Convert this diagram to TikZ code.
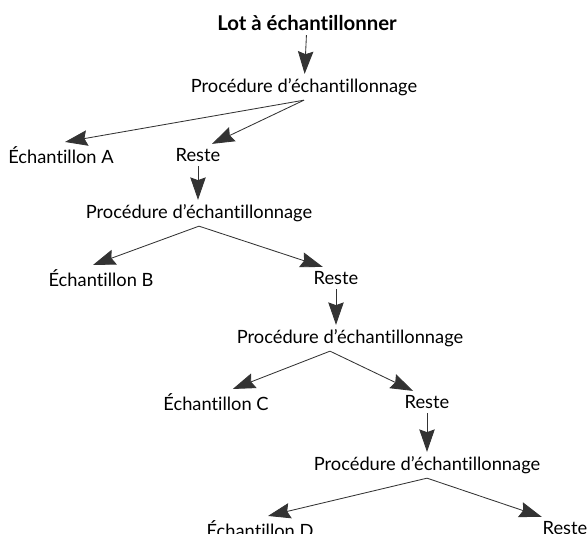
\documentclass[tikz,border=0pt]{standalone}
\usepackage{fontspec}
\setmainfont[Ligatures=NoCommon]{Lato}
\usepackage{tikz}
\usepackage{tkz-euclide}
\usetikzlibrary{arrows.meta}

\begin{document}
\begin{tikzpicture}[
  rotulo/.style={inner sep=3pt, font=\fontsize{13}{15}\selectfont, text=black},
  titulo/.style={rotulo, font=\fontsize{14.5}{17}\selectfont\bfseries},
  seta/.style={draw=black!80, line width=0.6pt, -{Stealth[length=16pt,width=11pt,inset=2pt]}}
] %estilos dos rotulos e das setas

%Area da figura (mesmas proporcoes da referencia)
\useasboundingbox (0,0) rectangle (14.675,13.325);
\clip (0,0) rectangle (14.675,13.325);

%O comando \tkzDefPoints define os pontos onde ficam os textos (x/y/NomedoPonto)
\tkzDefPoints{
7.675/12.75/L,
7.6/11.15/PA,
1.525/9.45/EA,
4.95/9.45/RA,
4.975/8.0/PB,
2.525/6.375/EB,
8.4/6.375/RB,
8.75/4.875/PC,
5.4/3.275/EC,
10.675/3.275/RC,
10.675/1.7/PD,
6.5/0.1/ED,
14.125/0.125/RD}

%Textos de cada etapa
%---------------------------------------------------
\node[titulo] (lot) at (L) {Lot à échantillonner};
\node[rotulo] (procA) at (PA) {Procédure d’échantillonnage};
\node[rotulo] (echA) at (EA) {Échantillon A};
\node[rotulo] (resteA) at (RA) {Reste};
\node[rotulo] (procB) at (PB) {Procédure d’échantillonnage};
\node[rotulo] (echB) at (EB) {Échantillon B};
\node[rotulo] (resteB) at (RB) {Reste};
\node[rotulo] (procC) at (PC) {Procédure d’échantillonnage};
\node[rotulo] (echC) at (EC) {Échantillon C};
\node[rotulo] (resteC) at (RC) {Reste};
\node[rotulo] (procD) at (PD) {Procédure d’échantillonnage};
\node[rotulo] (echD) at (ED) {Échantillon D};
\node[rotulo] (resteD) at (RD) {Reste};
%---------------------------------------------------

%Setas verticais (do reste ate a proxima procedure)
%---------------------------------------------------
\draw[seta] (lot) -- (procA);
\draw[seta] (resteA) -- (resteA |- procB.north);
\draw[seta] (resteB) -- (resteB |- procC.north);
\draw[seta] (resteC) -- (procD);
%---------------------------------------------------

%Setas inclinadas (da procedure ate o echantillon e o reste)
%---------------------------------------------------
\draw[seta] (procA.south) -- ([xshift=0.1cm]echA.north);
\draw[seta] (procA.south) -- ([xshift=0.35cm]resteA.north);

\draw[seta] (procB.south) -- ([xshift=-0.2cm]echB.north);
\draw[seta] (procB.south) -- ([xshift=-0.33cm]resteB.north);

\draw[seta] ([xshift=-0.5cm]procC.south) -- ([xshift=0.42cm]echC.north);
\draw[seta] ([xshift=-0.5cm]procC.south) -- ([xshift=-0.35cm]resteC.north);

\draw[seta] (procD.south) -- ([xshift=0.2cm]echD.north);
\draw[seta] (procD.south) -- ([xshift=-0.58cm]resteD.north);
%---------------------------------------------------

\end{tikzpicture}
\end{document}
